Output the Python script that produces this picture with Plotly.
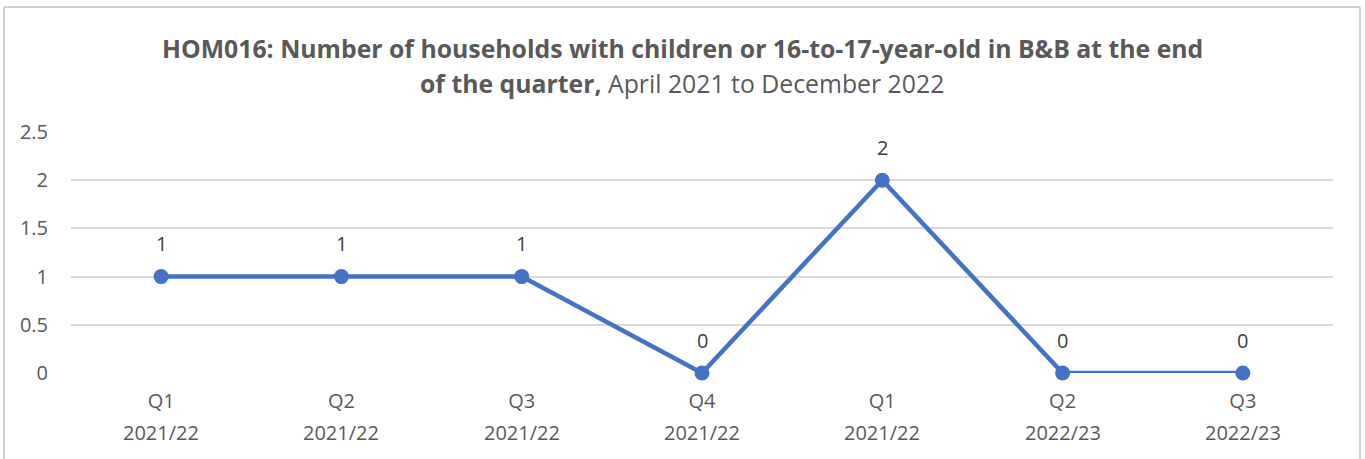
import plotly.graph_objects as go

quarters = ["Q1", "Q2", "Q3", "Q4", "Q1", "Q2", "Q3"]
years = ["2021/22", "2021/22", "2021/22", "2021/22", "2021/22", "2022/23", "2022/23"]
households = [1, 1, 1, 0, 2, 0, 0]
y_ticks = [0, 0.5, 1, 1.5, 2, 2.5]
title_lines = [
    "<b>HOM016: Number of households with children or 16-to-17-year-old in B&B at the end</b>",
    "<b>of the quarter,</b> April 2021 to December 2022",
]

FONT = "Open Sans"
GREY = "#595959"
BLUE = "#4472C4"
TICK_SIZE = 20
PLOT_H = 459 - 132 - 86
PLOT_W = 1365 - 71 - 32

x_pos = list(range(len(households)))

fig = go.Figure()
fig.add_trace(go.Scatter(
    x=x_pos, y=households,
    mode="lines+markers",
    line=dict(color=BLUE, width=4.5),
    marker=dict(color=BLUE, size=15),
    cliponaxis=False,
    hoverinfo="skip",
))

# value labels above each point
for i, v in enumerate(households):
    fig.add_annotation(x=x_pos[i], y=v, xref="x", yref="y", text=str(v),
                       showarrow=False, yshift=33,
                       font=dict(family=FONT, size=TICK_SIZE, color="#404040"))

# second line of each category label
for i, yr in enumerate(years):
    fig.add_annotation(x=x_pos[i], y=0, xref="x", yref="y", text=yr,
                       showarrow=False, yshift=-59,
                       font=dict(family=FONT, size=TICK_SIZE, color=GREY))

# two-line title, centred on the chart frame
title_x = (682 - 71) / PLOT_W
for line, px in zip(title_lines, [132 - 48, 132 - 83]):
    fig.add_annotation(
        xref="paper", yref="paper", x=title_x, y=1 + px / PLOT_H,
        xanchor="center", yanchor="middle",
        text=line, showarrow=False,
        font=dict(family=FONT, size=24.8, color=GREY),
    )

fig.update_layout(
    width=1365, height=459,
    margin=dict(l=71, r=32, t=132, b=86),
    paper_bgcolor="white", plot_bgcolor="white",
    showlegend=False,
    xaxis=dict(
        range=[-0.5, len(households) - 0.5],
        tickvals=x_pos, ticktext=quarters,
        showgrid=False, zeroline=False, showline=False,
        ticks="", ticklabelstandoff=14,
        tickfont=dict(family=FONT, size=TICK_SIZE, color=GREY),
        fixedrange=True,
    ),
    yaxis=dict(
        range=[0, 2.5],
        tickvals=y_ticks, ticktext=[f"{v:g}" for v in y_ticks],
        showgrid=True, gridcolor="#D9D9D9", gridwidth=1.5,
        zeroline=False, showline=False, ticks="",
        ticklabelstandoff=22,
        tickfont=dict(family=FONT, size=TICK_SIZE, color=GREY),
        fixedrange=True,
    ),
)

# chart frame: top, left and right edges
frame_left = -67 / PLOT_W
frame_right = 1 + 27 / PLOT_W
frame_top = 1 + 125 / PLOT_H
frame = dict(color="#D0D0D0", width=2)
fig.add_shape(type="line", xref="paper", yref="paper",
              x0=frame_left, x1=frame_right, y0=frame_top, y1=frame_top, line=frame)
fig.add_shape(type="line", xref="paper", yref="paper",
              x0=frame_left, x1=frame_left, y0=-0.5, y1=frame_top, line=frame)
fig.add_shape(type="line", xref="paper", yref="paper",
              x0=frame_right, x1=frame_right, y0=-0.5, y1=frame_top, line=frame)

fig.write_html("out.html")
